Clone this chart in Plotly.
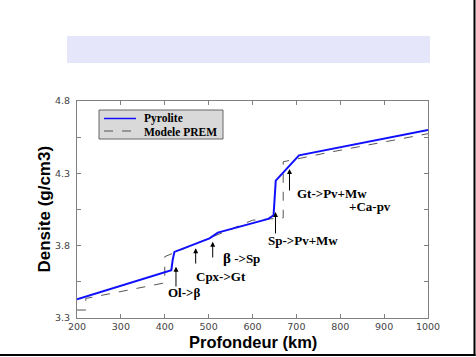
import plotly.graph_objects as go

# ---- data ----
depth_pyrolite = [200, 415, 418, 422, 502, 521, 636, 648, 653, 706, 1000]
density_pyrolite = [3.43, 3.631, 3.70, 3.757, 3.85, 3.89, 3.985, 4.01, 4.25, 4.424, 4.60]

depth_prem = [200, 220, 220, 400, 400, 600, 670, 670, 771, 1000]
density_prem = [3.355, 3.355, 3.435, 3.543, 3.724, 3.976, 3.992, 4.38, 4.443, 4.574]

# transition arrows: (tip depth, tip density, tail density)
arrow_depth = [425.6, 470.5, 509.3, 652.4, 684.3]
arrow_tip = [3.655, 3.782, 3.827, 4.033, 4.330]
arrow_tail = [3.507, 3.666, 3.708, 3.874, 4.171]

label_text = ["Ol->β", "Cpx->Gt", "<span style='font-size:15px'>β</span> ->Sp",
              "Sp->Pv+Mw", "Gt->Pv+Mw", "+Ca-pv"]
label_depth = [443, 529, 529, 630.8, 697, 815.4]
label_density = [3.473, 3.590, 3.715, 3.839, 4.164, 4.074]
label_anchor = ["center", "center", "left", "left", "left", "left"]

x_ticks = [200, 300, 400, 500, 600, 700, 800, 900, 1000]
y_ticks = [3.3, 3.55, 3.8, 4.05, 4.3, 4.55, 4.8]
y_ticktext = ["3.3", "", "3.8", "", "4.3", "", "4.8"]

legend_names = ["Pyrolite", "Modele PREM"]
x_title = "Profondeur (km)"
y_title = "Densite (g/cm3)"

# ---- figure ----
fig = go.Figure()
fig.add_trace(go.Scatter(x=depth_prem, y=density_prem, mode="lines",
                         line=dict(color="#555555", width=1, dash="dash"),
                         name=legend_names[1], showlegend=False))
fig.add_trace(go.Scatter(x=depth_pyrolite, y=density_pyrolite, mode="lines",
                         line=dict(color="#1010ff", width=2),
                         name=legend_names[0], showlegend=False))

annotations = []
for xd, tip, tail in zip(arrow_depth, arrow_tip, arrow_tail):
    annotations.append(dict(x=xd, y=tip, ax=xd, ay=tail, xref="x", yref="y",
                            axref="x", ayref="y", showarrow=True, text="",
                            arrowhead=2, arrowsize=1, arrowwidth=1,
                            arrowcolor="black"))
for t, xd, yd, anc in zip(label_text, label_depth, label_density, label_anchor):
    annotations.append(dict(x=xd, y=yd, xref="x", yref="y", text="<b>%s</b>" % t,
                            showarrow=False, xanchor=anc, yanchor="middle",
                            font=dict(family="Liberation Serif", size=13, color="black")))

# paper coords helpers: plot area x 77..428 px, y 101..318 px
def px2x(px):
    return (px - 77) / 351.0

def py2y(py):
    return (318 - py) / 217.0

# axis titles
annotations.append(dict(x=px2x(253), y=py2y(342), xref="paper", yref="paper",
                        text="<b>%s</b>" % x_title, showarrow=False,
                        xanchor="center", yanchor="middle",
                        font=dict(family="Liberation Sans", size=16.5, color="black")))
annotations.append(dict(x=px2x(44), y=py2y(209.5), xref="paper", yref="paper",
                        text="<b>%s</b>" % y_title, showarrow=False, textangle=-90,
                        xanchor="center", yanchor="middle",
                        font=dict(family="Liberation Sans", size=17, color="black")))

shapes = [
    # lavender title band
    dict(type="rect", xref="paper", yref="paper", x0=px2x(67), x1=px2x(430),
         y0=py2y(63), y1=py2y(36), fillcolor="#e6e6fa", line=dict(width=0),
         layer="below"),
    # page frame (right & bottom)
    dict(type="line", xref="paper", yref="paper", x0=px2x(474.5), x1=px2x(474.5),
         y0=py2y(356), y1=py2y(-5), line=dict(color="black", width=2)),
    dict(type="line", xref="paper", yref="paper", x0=px2x(-5), x1=px2x(475.5),
         y0=py2y(355), y1=py2y(355), line=dict(color="black", width=2)),
    # legend box
    dict(type="rect", xref="paper", yref="paper", x0=px2x(99), x1=px2x(223),
         y0=py2y(139), y1=py2y(110), fillcolor="#d9d9d9",
         line=dict(color="#666666", width=1)),
    dict(type="line", xref="paper", yref="paper", x0=px2x(104), x1=px2x(136),
         y0=py2y(118.5), y1=py2y(118.5), line=dict(color="#1010ff", width=1.5)),
    dict(type="line", xref="paper", yref="paper", x0=px2x(104), x1=px2x(136),
         y0=py2y(131), y1=py2y(131), line=dict(color="#555555", width=1, dash="dash")),
]
for name, py in zip(legend_names, [118, 131.5]):
    annotations.append(dict(x=px2x(142), y=py2y(py), xref="paper", yref="paper",
                            text="<b>%s</b>" % name, showarrow=False,
                            xanchor="left", yanchor="middle",
                            font=dict(family="Liberation Serif", size=11.5, color="black")))

fig.update_layout(
    width=476, height=357,
    margin=dict(l=77, r=48, t=101, b=39),
    paper_bgcolor="white", plot_bgcolor="white",
    showlegend=False,
    annotations=annotations, shapes=shapes,
    xaxis=dict(range=[200, 1000], tickvals=x_ticks, ticks="inside", ticklen=4,
               tickcolor="#808080", showline=True, linecolor="#808080", linewidth=1,
               mirror="ticks", showgrid=False, zeroline=False,
               tickfont=dict(family="DejaVu Sans", size=9.5, color="#444444")),
    yaxis=dict(range=[3.3, 4.8], tickvals=y_ticks, ticktext=y_ticktext,
               ticks="inside", ticklen=4, tickcolor="#808080", showline=True,
               linecolor="#808080", linewidth=1, mirror="ticks", showgrid=False,
               zeroline=False, ticklabelstandoff=4,
               tickfont=dict(family="DejaVu Sans", size=9.5, color="#444444")),
)

fig.write_html("out.html")
